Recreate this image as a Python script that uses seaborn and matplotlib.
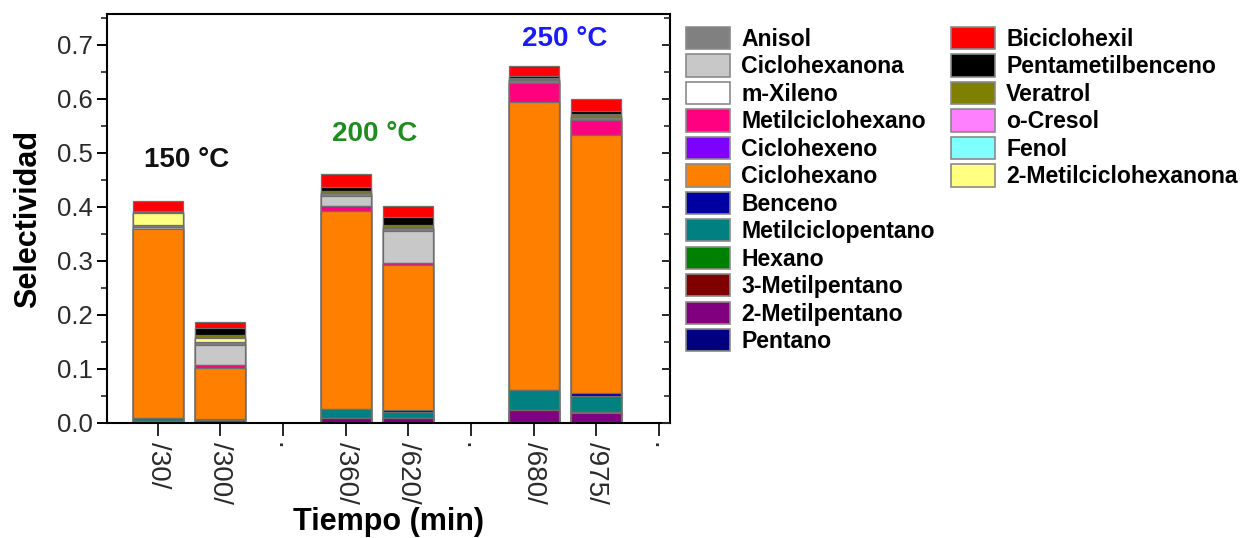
import matplotlib
matplotlib.use("Agg")
import matplotlib.pyplot as plt
from matplotlib.patches import Patch
from matplotlib.ticker import MultipleLocator, FormatStrFormatter
import numpy as np
import pandas as pd
import seaborn as sns

# ---------------- data ----------------
groups = ["30", "300", "gap1", "360", "620", "gap2", "680", "975", "gap3"]
tick_labels = ["/30/", "/300/", ".", "/360/", "/620/", ".", "/680/", "/975/", "."]
bar_groups = ["30", "300", "360", "620", "680", "975"]

# compounds from bottom of the stack to the top
compounds = ["Pentano", "2-Metilpentano", "3-Metilpentano", "Hexano",
             "Metilciclopentano", "Benceno", "Ciclohexano", "Ciclohexeno",
             "Metilciclohexano", "m-Xileno", "Ciclohexanona", "Anisol",
             "2-Metilciclohexanona", "Fenol", "o-Cresol", "Veratrol",
             "Pentametilbenceno", "Biciclohexil"]

pentano              = [0.004, 0.000, 0.000, 0.000, 0.000, 0.000]
metilpentano_2       = [0.000, 0.000, 0.010, 0.010, 0.024, 0.019]
metilpentano_3       = [0.000, 0.000, 0.000, 0.000, 0.000, 0.002]
hexano               = [0.000, 0.000, 0.000, 0.000, 0.000, 0.000]
metilciclopentano    = [0.005, 0.005, 0.015, 0.010, 0.037, 0.029]
benceno              = [0.000, 0.003, 0.000, 0.004, 0.000, 0.005]
ciclohexano          = [0.350, 0.093, 0.368, 0.268, 0.534, 0.478]
ciclohexeno          = [0.000, 0.000, 0.000, 0.000, 0.000, 0.000]
metilciclohexano     = [0.000, 0.006, 0.009, 0.005, 0.035, 0.028]
m_xileno             = [0.000, 0.000, 0.000, 0.000, 0.000, 0.000]
ciclohexanona        = [0.003, 0.037, 0.019, 0.058, 0.000, 0.000]
anisol               = [0.005, 0.006, 0.004, 0.006, 0.004, 0.005]
metilciclohexanona_2 = [0.022, 0.008, 0.000, 0.000, 0.000, 0.000]
fenol                = [0.000, 0.000, 0.000, 0.000, 0.000, 0.000]
o_cresol             = [0.000, 0.000, 0.000, 0.000, 0.000, 0.000]
veratrol             = [0.002, 0.005, 0.005, 0.005, 0.004, 0.005]
pentametilbenceno    = [0.002, 0.012, 0.006, 0.016, 0.004, 0.006]
biciclohexil         = [0.017, 0.012, 0.025, 0.019, 0.019, 0.022]

values = [pentano, metilpentano_2, metilpentano_3, hexano, metilciclopentano,
          benceno, ciclohexano, ciclohexeno, metilciclohexano, m_xileno,
          ciclohexanona, anisol, metilciclohexanona_2, fenol, o_cresol,
          veratrol, pentametilbenceno, biciclohexil]

colors = {
    "Anisol": "#808080", "Ciclohexanona": "#C8C8C8", "m-Xileno": "#FFFFFF",
    "Metilciclohexano": "#FF0080", "Ciclohexeno": "#8000FF",
    "Ciclohexano": "#FF8000", "Benceno": "#0000A0",
    "Metilciclopentano": "#008080", "Hexano": "#008000",
    "3-Metilpentano": "#800000", "2-Metilpentano": "#800080",
    "Pentano": "#000080", "Biciclohexil": "#FF0000",
    "Pentametilbenceno": "#000000", "Veratrol": "#808000",
    "o-Cresol": "#FF80FF", "Fenol": "#80FFFF",
    "2-Metilciclohexanona": "#FFFF80",
}
legend_col1 = ["Anisol", "Ciclohexanona", "m-Xileno", "Metilciclohexano",
               "Ciclohexeno", "Ciclohexano", "Benceno", "Metilciclopentano",
               "Hexano", "3-Metilpentano", "2-Metilpentano", "Pentano"]
legend_col2 = ["Biciclohexil", "Pentametilbenceno", "Veratrol", "o-Cresol",
               "Fenol", "2-Metilciclohexanona"]

temps = ["150 °C", "200 °C", "250 °C"]
temp_colors = ["#111111", "#1E8C1E", "#1A1AFF"]
temp_pos = [(0.46, 0.487), (3.47, 0.535), (6.50, 0.711)]

# ---------------- style ----------------
sns.set_style("ticks")
plt.rcParams["font.family"] = ["Liberation Sans", "DejaVu Sans"]
plt.rcParams["text.color"] = "black"
plt.rcParams["axes.labelcolor"] = "black"

fig = plt.figure(figsize=(12.52, 5.38), dpi=100)
ax = fig.add_axes([107 / 1252, 1 - 423 / 538, (670 - 107) / 1252, (423 - 14) / 538])

df = pd.DataFrame(np.array(values).T, columns=compounds)
df["Tiempo"] = bar_groups
cum = df[compounds].cumsum(axis=1)

# draw cumulative bars from the top layer down so each layer covers the one below
for comp in reversed(compounds):
    d = pd.DataFrame({"Tiempo": bar_groups, "val": cum[comp].values})
    sns.barplot(data=d, x="Tiempo", y="val", order=groups, color=colors[comp],
                saturation=1, width=0.8, edgecolor="#6e6e6e", linewidth=0.9,
                ax=ax, errorbar=None)

ax.set_xlim(-0.81, 8.175)
ax.set_ylim(0, 0.757)
ax.set_xticks(range(len(groups)))
ax.set_xticklabels(tick_labels, rotation=-90, fontsize=20, color="#2a2a2a")
ax.yaxis.set_major_locator(MultipleLocator(0.1))
ax.yaxis.set_minor_locator(MultipleLocator(0.05))
ax.yaxis.set_major_formatter(FormatStrFormatter("%.1f"))
ax.tick_params(axis="y", which="major", labelsize=18.5, labelcolor="#2a2a2a",
               direction="out", length=7, width=1.4, color="black")
ax.tick_params(axis="y", which="minor", direction="out", length=4.5, width=1.2)
ax.tick_params(axis="x", which="major", direction="out", length=9, width=1.4,
               pad=5)
for s in ax.spines.values():
    s.set_visible(True)
    s.set_linewidth(1.5)
    s.set_color("black")

ax.set_xlabel("Tiempo (min)", fontsize=22, fontweight="bold", labelpad=2)
ax.set_ylabel("Selectividad", fontsize=22, fontweight="bold", labelpad=10)

# inward ticks on the right spine
ax2 = ax.twinx()
ax2.set_ylim(ax.get_ylim())
ax2.yaxis.set_major_locator(MultipleLocator(0.1))
ax2.yaxis.set_minor_locator(MultipleLocator(0.05))
ax2.tick_params(axis="y", which="major", direction="in", length=6, width=1.4,
                labelright=False)
ax2.tick_params(axis="y", which="minor", direction="in", length=4, width=1.2)
for s in ax2.spines.values():
    s.set_visible(False)

for t, c, (x, y) in zip(temps, temp_colors, temp_pos):
    ax.text(x, y, t, color=c, fontsize=20, fontweight="bold",
            ha="center", va="center")

def make_handles(names):
    return [Patch(facecolor=colors[n], edgecolor="#8a8a8a", linewidth=1.2)
            for n in names]

leg_kw = dict(frameon=False, handlelength=1.9,
              handleheight=1.1, handletextpad=0.5, labelspacing=0.155,
              borderpad=0, borderaxespad=0, loc="upper left",
              labelcolor="black",
              prop={"weight": "bold", "size": 16.6})
leg1 = fig.legend(make_handles(legend_col1), legend_col1,
                  bbox_to_anchor=(686 / 1252, 1 - 27 / 538), **leg_kw)
leg2 = fig.legend(make_handles(legend_col2), legend_col2,
                  bbox_to_anchor=(951 / 1252, 1 - 27 / 538), **leg_kw)

fig.savefig("out.png", dpi=100)
